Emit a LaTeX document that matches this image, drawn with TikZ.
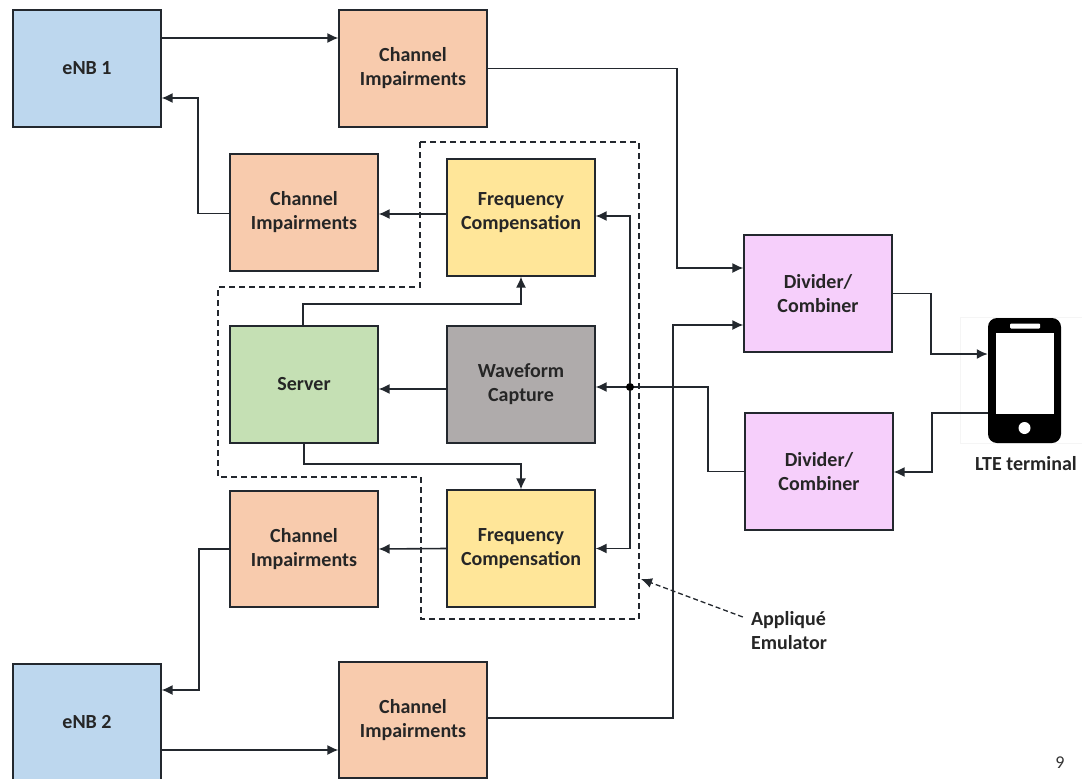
\documentclass[tikz,border=0pt]{standalone}
\usepackage{fontspec}
\setmainfont{Carlito}
\usepackage{xcolor}
\usetikzlibrary{shapes, positioning, arrows.meta}
\definecolor{enbcolor}{HTML}{BDD7EE}
\definecolor{channelcolor}{HTML}{F8CBAD}
\definecolor{freqcolor}{HTML}{FFE699}
\definecolor{dividercolor}{HTML}{F6CFFB}
\definecolor{servercolor}{HTML}{C5E0B4}
\definecolor{capturecolor}{HTML}{AFABAB}
\definecolor{linecolor}{HTML}{23282E}
\tikzset{
  blockbox/.style={draw=linecolor, line width=1.6pt, minimum width=147.5pt, minimum height=116.5pt,
    inner sep=0pt, align=center, font=\fontsize{20}{24}\selectfont\bfseries, text=black!85},
  wire/.style={draw=linecolor, line width=1.6pt, -{Latex[length=11pt,width=10pt]}},
  plainwire/.style={draw=linecolor, line width=1.6pt},
  caption/.style={align=left, font=\fontsize{20}{24}\selectfont\bfseries, text=black!85, inner sep=0pt}
}
\begin{document}
\begin{tikzpicture}[x=1pt,y=-1pt]
        \useasboundingbox (0,0) rectangle (1082,779);

        % blocks
        \node[blockbox, fill=enbcolor] (enbA) at (87,68.5) {eNB 1};
        \node[blockbox, fill=channelcolor] (chanA) at (413,68.5) {Channel\\Impairments};
        \node[blockbox, fill=channelcolor] (chanB) at (304,212.5) {Channel\\Impairments};
        \node[blockbox, fill=freqcolor] (freqA) at (521,217.5) {Frequency\\Compensation\\[-12pt]\mbox{}};
        \node[blockbox, fill=dividercolor] (divA) at (818,293.5) {Divider/\\Combiner};
        \node[blockbox, fill=servercolor] (server) at (304,384.5) {Server};
        \node[blockbox, fill=capturecolor] (capture) at (521,384.5) {Waveform\\Capture};
        \node[blockbox, fill=dividercolor] (divB) at (819,471.5) {Divider/\\Combiner};
        \node[blockbox, fill=channelcolor] (chanC) at (304,549) {Channel\\Impairments};
        \node[blockbox, fill=freqcolor] (freqB) at (521,548.5) {Frequency\\Compensation};
        \node[blockbox, fill=enbcolor] (enbB) at (87,722) {eNB 2};
        \node[blockbox, fill=channelcolor] (chanD) at (413,720) {Channel\\Impairments};

        % terminal
        \node[draw=black!4, line width=0.5pt, minimum width=122pt, minimum height=126pt] (phonebg) at (1021,380) {};
        \node[fill=black, rounded corners=9pt, minimum width=73pt, minimum height=125pt, inner sep=0pt] (phone) at (1024.5,380.5) {};
        \node[fill=white, minimum width=58pt, minimum height=81pt, inner sep=0pt] (screen) at (1025,373.5) {};
        \node[fill=white, rounded corners=1pt, minimum width=30pt, minimum height=5pt, inner sep=0pt] (speaker) at (1025,326) {};
        \node[fill=white, circle, minimum size=12pt, inner sep=0pt] (button) at (1024.5,428) {};
        \node[caption] (lte) at (1026,464) {LTE terminal};

        % emulator outline
        \draw[plainwire, line width=1.3pt, dash pattern=on 6pt off 4pt]
          (420,142) -- (639,142) -- (639,619) -- (421,619) -- (421,477) -- (218,477) -- (218,287) -- (420,287) -- cycle;
        \node[caption] (emulator) at (789,631) {Appliqué\\Emulator};
        \coordinate (emulatortip) at (641,579);
        \draw[wire, line width=1.3pt, dash pattern=on 5pt off 3pt] ([xshift=-8pt,yshift=14pt]emulator.west) -- (emulatortip);

        % connectors
        \draw[wire] ([yshift=30.5pt]enbA.east) -- ([yshift=30.5pt]chanA.west);
        \draw[wire] (chanA.east) -| (677,268) -- ([yshift=25.5pt]divA.west);
        \draw[wire] ([yshift=-1pt]chanB.west) -| (198,98) -- ([yshift=-29.5pt]enbA.east);
        \draw[wire] ([yshift=3.5pt]freqA.west) -- ([yshift=-1.5pt]chanB.east);
        \draw[wire] ([xshift=-1pt]server.north) |- (521,304) -- (freqA.south);
        \draw[wire] ([yshift=-4.5pt]capture.west) -- ([yshift=-4.5pt]server.east);
        \draw[wire] (server.south) |- (521,464) -- (freqB.north);
        \draw[wire] (divB.west) -| (708,387) -- ([yshift=-2.5pt]capture.east);
        \node[fill=black, circle, minimum size=8pt, inner sep=0pt] (branch) at (630,387) {};
        \draw[wire] (branch) |- ([yshift=1.5pt]freqA.east);
        \draw[wire] (branch) |- (freqB.east);
        \draw[wire] (freqB.west) -- (chanC.east);
        \draw[wire] (chanC.west) -| (199,690) -- ([yshift=32pt]enbB.east);
        \draw[wire] ([yshift=-28pt]enbB.east) -- ([yshift=-30pt]chanD.west);
        \draw[wire] ([yshift=2pt]chanD.east) -| (673,325) -- ([yshift=-31.5pt]divA.west);
        \draw[wire] (divA.east) -| (931,354) -- ([yshift=26.5pt]phone.west);
        \draw[wire] ([yshift=-32.5pt]phone.west) -| (932,472) -- ([yshift=-0.5pt]divB.east);

        \node[inner sep=0pt, font=\fontsize{18}{20}\selectfont, text=black!80] (pagenum) at (1060,763) {9};
      \end{tikzpicture}
\end{document}
